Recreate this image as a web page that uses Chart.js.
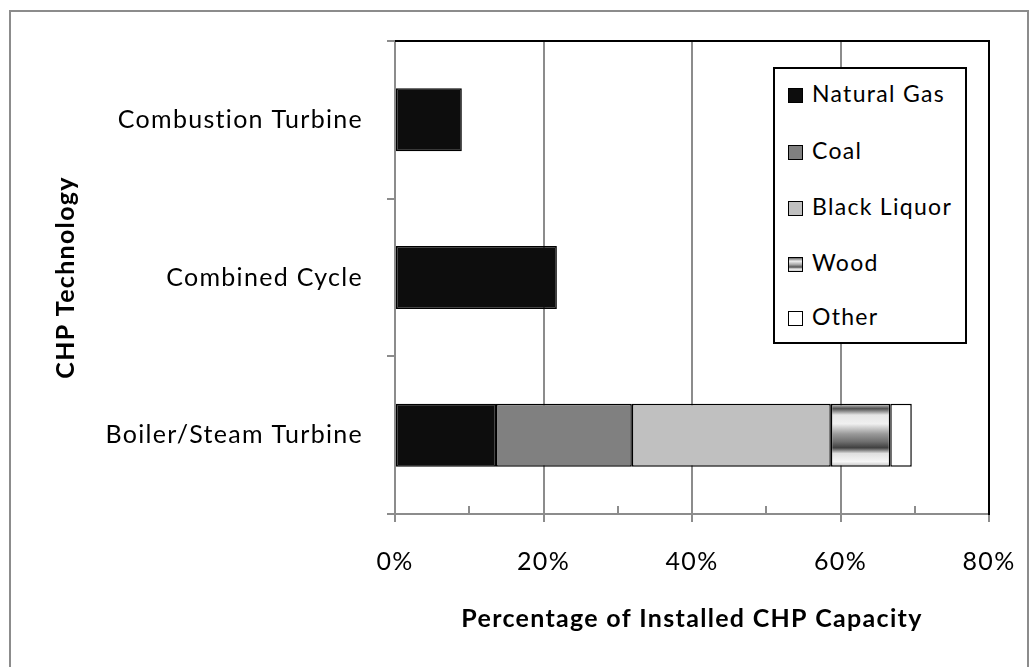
<!DOCTYPE html>
<html>
<head>
<meta charset="utf-8">
<script src="https://cdn.jsdelivr.net/npm/chart.js@4.4.1/dist/chart.umd.min.js"></script>
<style>
    html, body { margin: 0; padding: 0; background: #fff; }
    #wrap { position: relative; width: 1035px; height: 667px; overflow: hidden; }
    #frame { position: absolute; left: 9px; top: 10px; width: 1016px; height: 700px; border: 2px solid #8c8c8c; }
    #chartCanvas { position: absolute; left: 0; top: 0; }
    #legend { position: absolute; left: 773px; top: 67px; width: 190px; height: 273px; border: 2px solid #000; background: #fff; font-family: Lato, sans-serif; font-size: 23px; letter-spacing: 1.3px; color: #000; }
    .item { position: absolute; left: 13px; height: 26px; line-height: 26px; white-space: nowrap; }
    .swatch { display: inline-block; width: 15px; height: 15px; border: 1.5px solid #000; vertical-align: -1px; margin-right: 9px; box-sizing: border-box; }
</style>
</head>
<body>
<div id="wrap">
    <div id="frame"></div>
    <canvas id="chartCanvas" width="1035" height="667"></canvas>
    <div id="legend"></div>
</div>
<script>
const categories = ['Combustion Turbine', 'Combined Cycle', 'Boiler/Steam Turbine'];
const naturalGas = [9.0, 21.8, 13.6];
const coal = [null, null, 18.3];
const blackLiquor = [null, null, 26.8];
const wood = [null, null, 8.0];
const other = [null, null, 2.9];
const xTicks = [0, 20, 40, 60, 80];

const BAR_FRACTION = 0.4;

// striped fill for wood, built over the bar's own height
function woodFill(c) {
    const chart = c.chart;
    const ys = chart.scales.y;
    if (!chart.chartArea || !ys) return '#c8c8c8';
    const yc = ys.getPixelForValue(c.dataIndex);
    const half = Math.abs(ys.getPixelForValue(1) - ys.getPixelForValue(0)) * BAR_FRACTION / 2;
    const g = chart.ctx.createLinearGradient(0, yc - half, 0, yc + half);
    g.addColorStop(0, '#cfcfcf');
    g.addColorStop(0.08, '#505050');
    g.addColorStop(0.18, '#e6e6e6');
    g.addColorStop(0.32, '#f0f0f0');
    g.addColorStop(0.48, '#9a9a9a');
    g.addColorStop(0.6, '#707070');
    g.addColorStop(0.7, '#404040');
    g.addColorStop(0.79, '#e0e0e0');
    g.addColorStop(0.92, '#f6f6f6');
    g.addColorStop(1, '#c0c0c0');
    return g;
}

// letter spacing for canvas text, top + right plot border, minor ticks inside
const plotBorder = {
    id: 'plotBorder',
    afterInit(chart) {
        chart.ctx.letterSpacing = '1.3px';
    },
    afterDraw(chart) {
        const a = chart.chartArea;
        const ctx = chart.ctx;
        const x = chart.scales.x;
        ctx.save();
        ctx.strokeStyle = '#8c8c8c';
        ctx.lineWidth = 2;
        x.ticks.forEach(t => {
            if (t.value % 20 !== 0) {
                const px = Math.round(x.getPixelForValue(t.value));
                ctx.beginPath();
                ctx.moveTo(px, a.bottom);
                ctx.lineTo(px, a.bottom - 8);
                ctx.stroke();
            }
        });
        ctx.strokeStyle = '#000';
        ctx.beginPath();
        ctx.moveTo(a.left, a.top);
        ctx.lineTo(a.right, a.top);
        ctx.lineTo(a.right, a.bottom + 1);
        ctx.stroke();
        ctx.restore();
    }
};

function buildLegend(datasets) {
    const box = document.getElementById('legend');
    const tops = [11, 68, 124, 180, 234];
    datasets.forEach((ds, i) => {
        const div = document.createElement('div');
        div.className = 'item';
        div.style.top = tops[i] + 'px';
        const sw = document.createElement('span');
        sw.className = 'swatch';
        sw.style.background = ds.legendFill;
        div.appendChild(sw);
        div.appendChild(document.createTextNode(ds.label));
        box.appendChild(div);
    });
}

function createChart() {
    const ctx = document.getElementById('chartCanvas').getContext('2d');
    const base = { borderColor: '#000', borderWidth: 1.5, borderSkipped: false };
    const datasets = [
        Object.assign({ label: 'Natural Gas', data: naturalGas, backgroundColor: '#0d0d0d', legendFill: '#0d0d0d' }, base),
        Object.assign({ label: 'Coal', data: coal, backgroundColor: '#808080', legendFill: '#808080' }, base),
        Object.assign({ label: 'Black Liquor', data: blackLiquor, backgroundColor: '#c0c0c0', legendFill: '#c0c0c0' }, base),
        Object.assign({ label: 'Wood', data: wood, backgroundColor: woodFill,
            legendFill: 'linear-gradient(to bottom, #666 0%, #eee 25%, #aaa 50%, #555 70%, #eee 85%, #ccc 100%)' }, base),
        Object.assign({ label: 'Other', data: other, backgroundColor: '#fff', legendFill: '#fff' }, base)
    ];

    new Chart(ctx, {
        type: 'bar',
        data: { labels: categories, datasets: datasets },
        options: {
            indexAxis: 'y',
            responsive: false,
            animation: false,
            layout: { padding: { left: 50, top: 41, right: 46, bottom: 0 } },
            datasets: { bar: { categoryPercentage: 1, barPercentage: BAR_FRACTION } },
            plugins: { legend: { display: false }, tooltip: { enabled: false } },
            scales: {
                x: {
                    stacked: true,
                    min: 0,
                    max: 80,
                    afterFit: s => {
                        s.height = 667 - 514;
                        s.paddingLeft = 0;
                        s.paddingRight = 0;
                    },
                    ticks: {
                        stepSize: 10,
                        padding: 25,
                        color: '#000',
                        font: { family: 'Lato', size: 25 },
                        callback: v => xTicks.includes(v) ? v + '%' : ''
                    },
                    grid: {
                        color: c => (c.tick && c.tick.value % 20 === 0) ? '#8c8c8c' : 'rgba(0,0,0,0)',
                        tickColor: c => (c.tick && c.tick.value % 20 === 0) ? '#8c8c8c' : 'rgba(0,0,0,0)',
                        lineWidth: 2,
                        tickLength: 8
                    },
                    border: { color: '#8c8c8c', width: 2 },
                    title: {
                        display: true,
                        text: 'Percentage of Installed CHP Capacity',
                        color: '#000',
                        font: { family: 'Lato', size: 25, weight: 'bold' },
                        padding: { top: 0, bottom: 33 }
                    }
                },
                y: {
                    stacked: true,
                    afterFit: s => { s.width = 395 - 50; },
                    ticks: { padding: 24, color: '#000', font: { family: 'Lato', size: 25 } },
                    grid: { drawOnChartArea: false, color: '#8c8c8c', lineWidth: 2, tickLength: 8 },
                    border: { color: '#8c8c8c', width: 2 },
                    title: {
                        display: true,
                        text: 'CHP Technology',
                        color: '#000',
                        font: { family: 'Lato', size: 25, weight: 'bold' },
                        padding: { top: 1, bottom: 0 }
                    }
                }
            }
        },
        plugins: [plotBorder]
    });

    buildLegend(datasets);
}

document.addEventListener('DOMContentLoaded', createChart);
</script>
</body>
</html>
